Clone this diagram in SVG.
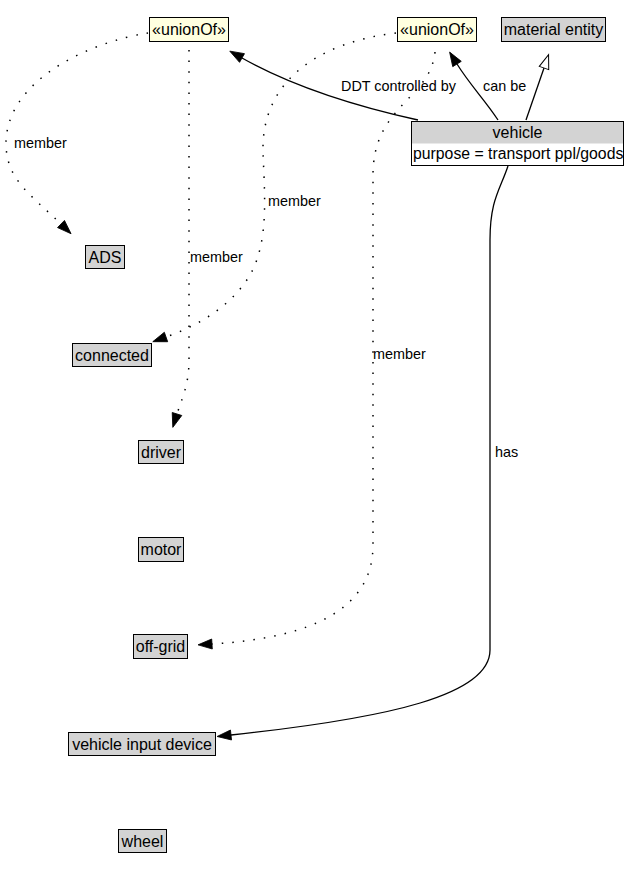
<svg xmlns="http://www.w3.org/2000/svg" width="632" height="892" viewBox="0 0 632 892">
<style>
  .box{fill:#d3d3d3;stroke:#000;stroke-width:1}
  .union{fill:#ffffe0;stroke:#000;stroke-width:1}
  .nt{font-family:"Liberation Sans",Arial,sans-serif;font-size:16px;fill:#000;text-anchor:middle}
  .lt{font-family:"Liberation Sans",Arial,sans-serif;font-size:14.4px;fill:#000}
  .solid{fill:none;stroke:#000;stroke-width:1.3}
  .dot{fill:none;stroke:#000;stroke-width:1.5;stroke-dasharray:1.5 9.1}
</style>
<defs>
  <marker id="arr" markerUnits="userSpaceOnUse" markerWidth="15" markerHeight="11" refX="0" refY="5" orient="auto" overflow="visible">
    <path d="M0,0 L14,5 L0,10 z" fill="#000" stroke="#000" stroke-width="0.8"/>
  </marker>
  <marker id="gen" markerUnits="userSpaceOnUse" markerWidth="15" markerHeight="11" refX="0" refY="5" orient="auto" overflow="visible">
    <path d="M0,0 L14,5 L0,10 z" fill="#fff" stroke="#000" stroke-width="1"/>
  </marker>
</defs>
<rect width="632" height="892" fill="#fff"/>
<g id="connectors">
  <path class="dot" d="M148,33 C 90,42 5,80 6,145 C 7,180 30,194 61,224" marker-end="url(#arr)"/>
  <path class="dot" d="M189,50 L189,360 C 189,385 182,398 177,414" marker-end="url(#arr)"/>
  <path class="solid" d="M418,120 C 350,105 290,85 242,58" marker-end="url(#arr)"/>
  <path class="dot" d="M396,33 C 320,42 262,80 263,150 C 264,190 270,240 250,275 C 232,305 200,325 166,337" marker-end="url(#arr)"/>
  <path class="dot" d="M435,52 C 430,100 373,105 373,175 L373,545 C 373,610 310,638 212,644" marker-end="url(#arr)"/>
  <path class="solid" d="M498,120 C 485,100 470,85 457,64" marker-end="url(#arr)"/>
  <path class="solid" d="M526,120 L544,68" marker-end="url(#gen)"/>
  <path class="solid" d="M508,166 C 500,190 490,200 490,240 L490,650 C 490,695 390,718 231,735" marker-end="url(#arr)"/>
  <text class="lt" x="14" y="148">member</text>
  <text class="lt" x="190" y="262">member</text>
  <text class="lt" x="268" y="205.5">member</text>
  <text class="lt" x="373" y="359">member</text>
  <text class="lt" x="341" y="91">DDT controlled by</text>
  <text class="lt" x="483" y="91">can be</text>
  <text class="lt" x="495" y="457">has</text>
</g>
<g id="unionOf1">
  <rect class="union" x="149.5" y="17.5" width="79" height="24"/>
  <text class="nt" x="189" y="34.5">«unionOf»</text>
</g>
<g id="unionOf2">
  <rect class="union" x="397.5" y="17.5" width="79" height="24"/>
  <text class="nt" x="437" y="34.5">«unionOf»</text>
</g>
<g id="material_entity">
  <rect class="box" x="501.5" y="17.5" width="104" height="24"/>
  <text class="nt" x="553.5" y="34.5">material entity</text>
</g>
<g id="vehicle">
  <rect x="411.5" y="121.5" width="212" height="44" fill="#fff"/>
  <rect x="411.5" y="121.5" width="212" height="22" fill="#d3d3d3"/>
  <rect x="411.5" y="121.5" width="212" height="44" fill="none" stroke="#000" stroke-width="1"/>
  <text class="nt" x="517.5" y="138">vehicle</text>
  <text class="nt" x="413" y="158.5" style="text-anchor:start;font-size:15.8px">purpose = transport ppl/goods</text>
</g>
<g id="ADS">
  <rect class="box" x="85.5" y="245.5" width="39" height="23"/>
  <text class="nt" x="105" y="262.5">ADS</text>
</g>
<g id="connected">
  <rect class="box" x="72.5" y="343.5" width="79" height="23"/>
  <text class="nt" x="112" y="360.5">connected</text>
</g>
<g id="driver">
  <rect class="box" x="138.5" y="440.5" width="45" height="23"/>
  <text class="nt" x="161" y="457.5">driver</text>
</g>
<g id="motor">
  <rect class="box" x="138.5" y="537.5" width="45" height="24"/>
  <text class="nt" x="161" y="554.5">motor</text>
</g>
<g id="off-grid">
  <rect class="box" x="133.5" y="634.5" width="54" height="24"/>
  <text class="nt" x="160.5" y="651.5">off-grid</text>
</g>
<g id="vehicle_input_device">
  <rect class="box" x="68.5" y="732.5" width="147" height="23"/>
  <text class="nt" x="142" y="749.5">vehicle input device</text>
</g>
<g id="wheel">
  <rect class="box" x="118.5" y="829.5" width="48" height="23"/>
  <text class="nt" x="142.5" y="846.5">wheel</text>
</g>
</svg>
